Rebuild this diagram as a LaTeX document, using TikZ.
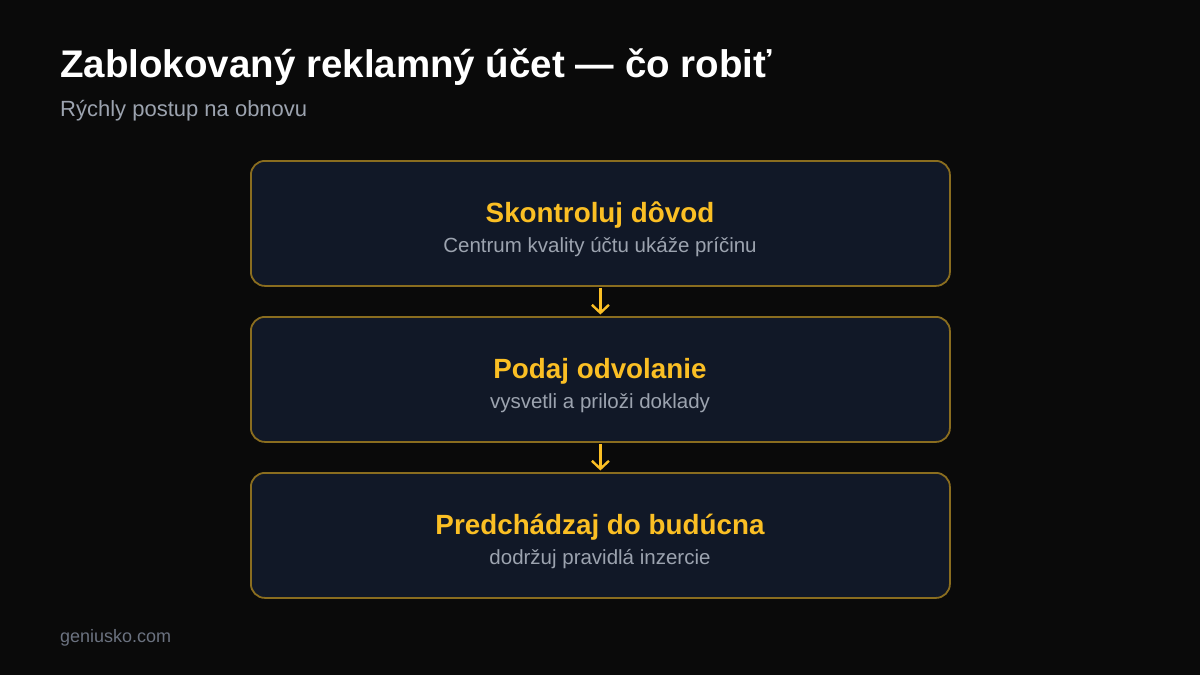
\documentclass[tikz,border=0pt]{standalone}
\usepackage{fontspec}
\setmainfont{Liberation Sans}
\usetikzlibrary{arrows.meta}
\definecolor{bg}{HTML}{0A0A0A}
\definecolor{boxfill}{HTML}{111827}
\definecolor{boxline}{HTML}{8A6D1F}
\definecolor{gold}{HTML}{FBBF24}
\definecolor{subgray}{HTML}{9CA3AF}
\definecolor{footgray}{HTML}{6B7280}
\tikzset{
  stepbox/.style={draw=boxline, line width=1.8pt, fill=boxfill, rounded corners=14pt,
    minimum width=699pt, minimum height=125pt, inner sep=0pt, anchor=north west},
  headtxt/.style={text=gold, font=\fontsize{27.8}{32}\selectfont\bfseries, anchor=base, inner sep=0pt},
  subtxt/.style={text=subgray, font=\fontsize{20.5}{24}\selectfont, anchor=base, inner sep=0pt},
  flowarr/.style={draw=gold, line width=2.4pt, -{Straight Barb[length=8pt,width=17pt,line width=2.4pt]}, shorten <=1pt, shorten >=1.5pt}
}
\begin{document}
\begin{tikzpicture}[x=1pt,y=-1pt]
\fill[bg] (0,0) rectangle (1200,675);
\useasboundingbox (0,0) rectangle (1200,675);
\node[anchor=base west, inner sep=0pt, text=white, font=\fontsize{38.5}{42}\selectfont\bfseries] (title) at (60,77.5) {Zablokovaný reklamný účet — čo robiť};
\node[anchor=base west, inner sep=0pt, text=subgray, font=\fontsize{22}{26}\selectfont] (subtitle) at (60,116) {Rýchly postup na obnovu};
\node[stepbox] (b1) at (250,160) {};
\node[stepbox] (b2) at (250,316) {};
\node[stepbox] (b3) at (250,472) {};
\node[headtxt] (h1) at (600,222) {Skontroluj dôvod};
\node[subtxt] (s1) at (600,252) {Centrum kvality účtu ukáže príčinu};
\node[headtxt] (h2) at (600,378) {Podaj odvolanie};
\node[subtxt] (s2) at (600,408) {vysvetli a priloži doklady};
\node[headtxt] (h3) at (600,534) {Predchádzaj do budúcna};
\node[subtxt] (s3) at (600,564) {dodržuj pravidlá inzercie};
\draw[flowarr] (b1.south) -- (b2.north);
\draw[flowarr] (b2.south) -- (b3.north);
\node[anchor=base west, inner sep=0pt, text=footgray, font=\fontsize{18}{22}\selectfont] (foot) at (60,642) {geniusko.com};
\end{tikzpicture}
\end{document}
